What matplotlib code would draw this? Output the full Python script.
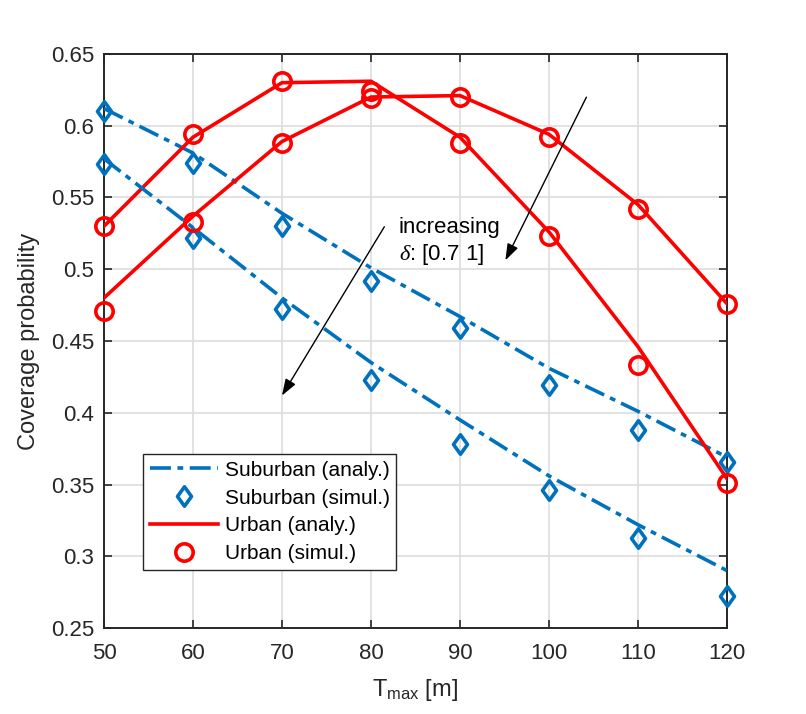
import matplotlib
matplotlib.use("Agg")
import matplotlib.pyplot as plt
from matplotlib.path import Path
import numpy as np

plt.rcParams['font.family'] = ['Liberation Sans', 'DejaVu Sans']
plt.rcParams['mathtext.fontset'] = 'custom'
plt.rcParams['mathtext.rm'] = 'Liberation Sans'
plt.rcParams['mathtext.it'] = 'Liberation Serif:italic'

T_max = [50, 60, 70, 80, 90, 100, 110, 120]

# Suburban analytical (two delta values)
sub_analy_1 = [0.612, 0.581, 0.539, 0.501, 0.467, 0.431, 0.401, 0.369]
sub_analy_2 = [0.577, 0.529, 0.480, 0.435, 0.395, 0.356, 0.322, 0.290]
# Suburban simulation
sub_simul_1 = [0.610, 0.574, 0.530, 0.492, 0.459, 0.419, 0.388, 0.366]
sub_simul_2 = [0.573, 0.522, 0.472, 0.423, 0.378, 0.346, 0.313, 0.272]
# Urban analytical
urb_analy_1 = [0.530, 0.592, 0.630, 0.631, 0.592, 0.526, 0.446, 0.354]
urb_analy_2 = [0.480, 0.537, 0.589, 0.620, 0.621, 0.594, 0.545, 0.476]
# Urban simulation
urb_simul_1 = [0.530, 0.594, 0.631, 0.6245, 0.588, 0.523, 0.4335, 0.351]
urb_simul_2 = [0.471, 0.533, 0.588, 0.619, 0.620, 0.592, 0.542, 0.476]

blue = '#0072BD'
red = '#FF0000'

diamond = Path([(0, 1), (0.72, 0), (0, -1), (-0.72, 0), (0, 1)],
               [Path.MOVETO, Path.LINETO, Path.LINETO, Path.LINETO, Path.CLOSEPOLY])

fig = plt.figure(figsize=(8.06, 7.14), dpi=100)
ax = fig.add_axes([0.129, 0.1204, 0.773, 0.804])

dash = (5.8, 1.8, 1.6, 1.8)
lw = 2.6
dkw = dict(ls='none', marker=diamond, ms=14, mfc='none', mec=blue, mew=2.6, zorder=4, clip_on=False)
okw = dict(ls='none', marker='o', ms=12.5, mfc='none', mec=red, mew=2.6, zorder=4, clip_on=False)
ax.plot(T_max, sub_analy_1, color=blue, lw=lw, dashes=dash, label='Suburban (analy.)', zorder=3)
ax.plot(T_max, sub_simul_1, label='Suburban (simul.)', **dkw)
ax.plot(T_max, urb_analy_1, color=red, lw=lw, label='Urban (analy.)', zorder=3)
ax.plot(T_max, urb_simul_1, label='Urban (simul.)', **okw)
ax.plot(T_max, sub_analy_2, color=blue, lw=lw, dashes=dash, zorder=3)
ax.plot(T_max, sub_simul_2, **dkw)
ax.plot(T_max, urb_analy_2, color=red, lw=lw, zorder=3)
ax.plot(T_max, urb_simul_2, **okw)

ax.set_xlim(50, 120)
ax.set_ylim(0.25, 0.65)
ax.set_xticks(np.arange(50, 121, 10))
ax.set_yticks(np.arange(0.25, 0.651, 0.05))
ax.set_yticklabels(['0.25', '0.3', '0.35', '0.4', '0.45', '0.5', '0.55', '0.6', '0.65'])
ax.grid(True, color='#DFDFDF', lw=1.3, zorder=0)
ax.set_axisbelow(True)
for s in ax.spines.values():
    s.set_color('#262626')
    s.set_linewidth(1.4)
ax.tick_params(direction='in', length=6, width=1.2, color='#262626', labelsize=16,
               labelcolor='#262626', top=True, right=True)
ax.tick_params(axis='x', pad=11)
ax.tick_params(axis='y', pad=7)
ax.set_xlabel('T$_{\\mathrm{max}}$ [m]', fontsize=17, color='#262626', labelpad=9)
ax.set_ylabel('Coverage probability', fontsize=17, color='#262626', labelpad=8)

akw = dict(arrowstyle='-|>,head_length=1.0,head_width=0.35', color='black', lw=1.0,
           shrinkA=0, shrinkB=0)
ax.annotate('', xy=(70.0, 0.412), xytext=(81.5, 0.5296), arrowprops=akw, zorder=5)
ax.annotate('', xy=(95.1, 0.5062), xytext=(104.2, 0.6199), arrowprops=akw, zorder=5)
ax.text(83.1, 0.529, 'increasing', fontsize=16, va='center', ha='left', color='black', zorder=6)
ax.text(83.1, 0.510, '$\\delta$: [0.7 1]', fontsize=16, va='center', ha='left', color='black', zorder=6)

leg = ax.legend(loc='upper left', bbox_to_anchor=(0.0626, 0.303), borderaxespad=0,
                fontsize=15, handlelength=3.3, handletextpad=0.3, labelspacing=0.42,
                borderpad=0.32, fancybox=False, framealpha=1, edgecolor='#262626')
leg.get_frame().set_linewidth(1.0)

fig.savefig('out.png', dpi=100)
